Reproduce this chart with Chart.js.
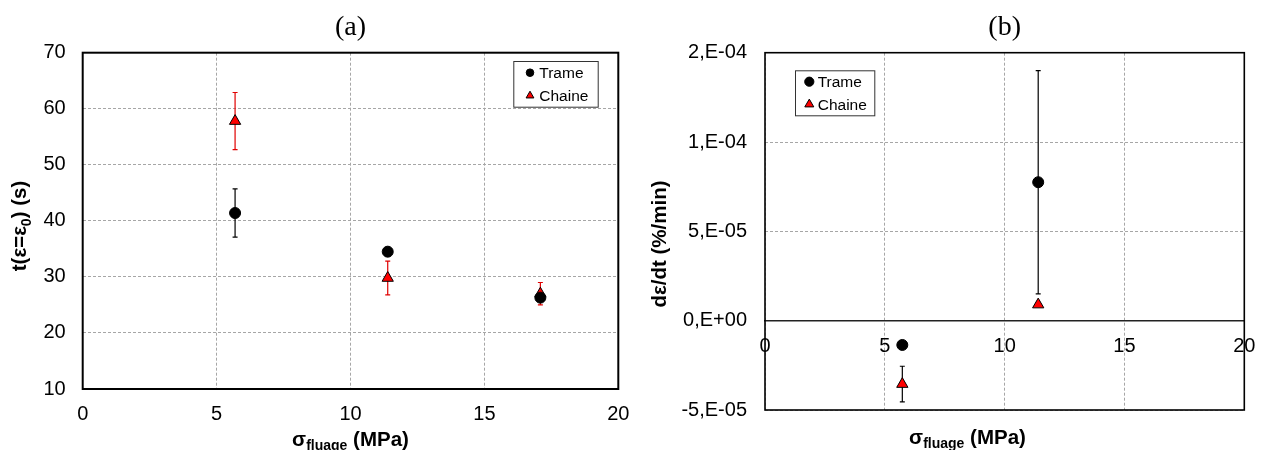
<!DOCTYPE html>
<html>
<head>
<meta charset="utf-8">
<script src="https://cdn.jsdelivr.net/npm/chart.js@4"></script>
<style>
  html, body { margin: 0; padding: 0; background: #fff; }
  #wrap { position: relative; width: 1263px; height: 450px; }
  canvas { position: absolute; top: 0; }
  #chartA { left: 0; }
  #chartB { left: 640px; }
</style>
</head>
<body>
<div id="wrap">
  <canvas id="chartA" width="640" height="450"></canvas>
  <canvas id="chartB" width="623" height="450"></canvas>
</div>
<script>
// (a) time to reach eps0 vs creep stress
const stressA = [5.69, 11.39, 17.09];
const trameTimeA = [41.4, 34.5, 26.3];
const trameTimeErrA = [4.3, 0.8, 0.5];
const chaineTimeA = [57.8, 29.8, 27.0];
const chaineTimeErrA = [5.1, 3.0, 2.0];

// (b) strain rate vs creep stress
const stressB = [5.73, 11.40];
const trameRateB = [-1.36e-5, 7.75e-5];
const trameRateErrB = [0, 6.25e-5];
const chaineRateB = [-3.55e-5, 0.9e-5];
const chaineRateErrB = [1.0e-5, 0];

const xTicks = [0, 5, 10, 15, 20];
const yTicksA = [10, 20, 30, 40, 50, 60, 70];
const yTicksB = [-5e-5, 0, 5e-5, 1e-4, 1.5e-4];
const yTickLabelsB = ['-5,E-05', '0,E+00', '5,E-05', '1,E-04', '2,E-04'];
const seriesNames = ['Trame', 'Chaine'];

const FONT = "'Liberation Sans', Arial, sans-serif";
const SERIF = "'Liberation Serif', 'Times New Roman', serif";
Chart.defaults.font.family = FONT;
Chart.defaults.color = '#000';

const pts = (xs, ys) => xs.map((x, i) => ({ x: x, y: ys[i] }));

// error bars, drawn under the markers
const errorBars = {
  id: 'errorBars',
  beforeDatasetsDraw(chart) {
    const { ctx, scales: { x, y } } = chart;
    chart.data.datasets.forEach(ds => {
      if (!ds.errors) return;
      ctx.save();
      ctx.strokeStyle = ds.errorColor;
      ctx.lineWidth = 1.2;
      ds.data.forEach((p, j) => {
        const e = ds.errors[j];
        if (!e) return;
        const px = x.getPixelForValue(p.x);
        const top = y.getPixelForValue(p.y + e);
        const bot = y.getPixelForValue(p.y - e);
        ctx.beginPath();
        ctx.moveTo(px, top); ctx.lineTo(px, bot);
        ctx.moveTo(px - 2.5, top); ctx.lineTo(px + 2.5, top);
        ctx.moveTo(px - 2.5, bot); ctx.lineTo(px + 2.5, bot);
        ctx.stroke();
      });
      ctx.restore();
    });
  }
};

// black box round the plot area
const frame = {
  id: 'frame',
  beforeDatasetsDraw(chart, args, opts) {
    const { ctx, chartArea: a } = chart;
    ctx.save();
    ctx.strokeStyle = '#000';
    ctx.lineWidth = opts.lineWidth;
    ctx.strokeRect(a.left, a.top, a.right - a.left, a.bottom - a.top);
    ctx.restore();
  }
};

function marker(ctx, style, cx, cy, r, fill) {
  ctx.beginPath();
  if (style === 'triangle') {
    for (let k = 0; k < 3; k++) {
      const ang = k * 2 * Math.PI / 3;
      const px = cx + Math.sin(ang) * r, py = cy - Math.cos(ang) * r;
      if (k === 0) ctx.moveTo(px, py); else ctx.lineTo(px, py);
    }
    ctx.closePath();
  } else {
    ctx.arc(cx, cy, r, 0, Math.PI * 2);
  }
  ctx.fillStyle = fill;
  ctx.fill();
  ctx.lineWidth = 1;
  ctx.strokeStyle = '#000';
  ctx.stroke();
}

// boxed legend inside the plot area
const boxLegend = {
  id: 'boxLegend',
  afterDatasetsDraw(chart, args, o) {
    const { ctx, chartArea: a } = chart;
    const bx = o.right != null ? a.right - o.right - o.width : a.left + o.left;
    const by = a.top + o.top;
    ctx.save();
    ctx.fillStyle = '#fff';
    ctx.fillRect(bx, by, o.width, o.height);
    ctx.strokeStyle = '#333';
    ctx.lineWidth = 1;
    ctx.strokeRect(bx + 0.5, by + 0.5, o.width, o.height);
    ctx.font = '15.5px ' + FONT;
    ctx.textBaseline = 'middle';
    chart.data.datasets.forEach((ds, i) => {
      const cy = by + o.rows[i];
      marker(ctx, ds.pointStyle, bx + o.markX, cy, o.sizes[i], ds.backgroundColor);
      ctx.fillStyle = '#000';
      ctx.fillText(ds.label, bx + o.textX, cy + 1);
    });
    ctx.restore();
  }
};

// axis titles with subscripts
function richText(ctx, parts, cx, cy, rotate) {
  ctx.save();
  ctx.translate(cx, cy);
  if (rotate) ctx.rotate(-Math.PI / 2);
  ctx.textBaseline = 'middle';
  ctx.fillStyle = '#000';
  let total = 0;
  parts.forEach(p => {
    ctx.font = 'bold ' + (p.sub ? 14 : 20.5) + 'px ' + FONT;
    p.w = ctx.measureText(p.text).width;
    total += p.w;
  });
  let x = -total / 2;
  parts.forEach(p => {
    ctx.font = 'bold ' + (p.sub ? 14 : 20.5) + 'px ' + FONT;
    ctx.fillText(p.text, x, p.sub ? 6.5 : 0);
    x += p.w;
  });
  ctx.restore();
}

const axisTitles = {
  id: 'axisTitles',
  afterDraw(chart, args, o) {
    richText(chart.ctx, o.x.parts, o.x.cx, o.x.cy, false);
    richText(chart.ctx, o.y.parts, o.y.cx, o.y.cy, true);
  }
};

const gridStyle = { color: '#a6a6a6', lineWidth: 1, drawTicks: false };
const tickFont = { size: 20 };

// keep label overhang from moving the plot area
function noPadX(s) { s.paddingLeft = 0; s.paddingRight = 0; }
function noPadY(s) { s.paddingTop = 0; s.paddingBottom = 0; }

function datasets(xs, ys1, e1, ys2, e2, chaineErrColor) {
  return [
    {
      label: seriesNames[0], data: pts(xs, ys1), errors: e1, errorColor: '#000',
      pointStyle: 'circle', pointRadius: 5.5, backgroundColor: '#000', borderColor: '#000', borderWidth: 1
    },
    {
      label: seriesNames[1], data: pts(xs, ys2), errors: e2, errorColor: chaineErrColor,
      pointStyle: 'triangle', pointRadius: 6.5, backgroundColor: '#ff0000', borderColor: '#000', borderWidth: 1
    }
  ];
}

const xTitleParts = () => [{ text: 'σ' }, { text: 'fluage', sub: true }, { text: ' (MPa)' }];

new Chart(document.getElementById('chartA'), {
  type: 'scatter',
  data: { datasets: datasets(stressA, trameTimeA, trameTimeErrA, chaineTimeA, chaineTimeErrA, '#e00000') },
  options: {
    responsive: false, animation: false, devicePixelRatio: 1, events: [],
    layout: { padding: { left: 0, right: 21.7, top: 0, bottom: 0 } },
    scales: {
      x: {
        type: 'linear', position: 'bottom',
        min: xTicks[0], max: xTicks[xTicks.length - 1],
        ticks: { stepSize: xTicks[1] - xTicks[0], font: tickFont, padding: 13.5, maxRotation: 0 },
        grid: gridStyle, border: { display: false, dash: [3, 2] },
        afterFit(s) { s.height = 61; noPadX(s); }
      },
      y: {
        min: yTicksA[0], max: yTicksA[yTicksA.length - 1],
        ticks: { stepSize: yTicksA[1] - yTicksA[0], font: tickFont, padding: 17 },
        grid: gridStyle, border: { display: false, dash: [3, 2] },
        afterFit(s) { s.width = 82.7; noPadY(s); }
      }
    },
    plugins: {
      legend: { display: false },
      tooltip: { enabled: false },
      title: {
        display: true, text: '(a)', fullSize: false, color: '#000',
        font: { family: SERIF, size: 28, weight: 'normal' },
        padding: { top: 10.7, bottom: 8.4 }
      },
      frame: { lineWidth: 2 },
      boxLegend: { right: 20.6, top: 8.3, width: 84.4, height: 45.7, rows: [11.7, 34.7], markX: 16.7, textX: 26, sizes: [3.8, 4.5] },
      axisTitles: {
        x: { cx: 350.5, cy: 440, parts: xTitleParts() },
        y: { cx: 20.5, cy: 226, parts: [{ text: 't(ε=ε' }, { text: '0', sub: true }, { text: ') (s)' }] }
      }
    }
  },
  plugins: [frame, errorBars, boxLegend, axisTitles]
});

new Chart(document.getElementById('chartB'), {
  type: 'scatter',
  data: { datasets: datasets(stressB, trameRateB, trameRateErrB, chaineRateB, chaineRateErrB, '#000') },
  options: {
    responsive: false, animation: false, devicePixelRatio: 1, events: [],
    layout: { padding: { left: 0, right: 18.7, top: 0, bottom: 40 } },
    scales: {
      x: {
        type: 'linear', position: { y: 0 },
        min: xTicks[0], max: xTicks[xTicks.length - 1],
        ticks: { stepSize: xTicks[1] - xTicks[0], font: tickFont, padding: 13.5, maxRotation: 0 },
        grid: gridStyle, border: { display: true, color: '#222', width: 1.5, dash: [3, 2] },
        afterFit(s) { noPadX(s); }
      },
      y: {
        min: yTicksB[0], max: yTicksB[yTicksB.length - 1],
        ticks: { stepSize: yTicksB[1] - yTicksB[0], font: tickFont, padding: 18,
          callback: (v, i) => yTickLabelsB[i] },
        grid: gridStyle, border: { display: false, dash: [3, 2] },
        afterFit(s) { s.width = 125; noPadY(s); }
      }
    },
    plugins: {
      legend: { display: false },
      tooltip: { enabled: false },
      title: {
        display: true, text: '(b)', fullSize: false, color: '#000',
        font: { family: SERIF, size: 28, weight: 'normal' },
        padding: { top: 10.7, bottom: 8.4 }
      },
      frame: { lineWidth: 1.6 },
      boxLegend: { left: 30, top: 17.6, width: 79.3, height: 45, rows: [11.4, 34], markX: 14.3, textX: 22.7, sizes: [4.6, 5.2] },
      axisTitles: {
        x: { cx: 327.5, cy: 438, parts: xTitleParts() },
        y: { cx: 20.5, cy: 244, parts: [{ text: 'dε/dt (%/min)' }] }
      }
    }
  },
  plugins: [frame, errorBars, boxLegend, axisTitles]
});
</script>
</body>
</html>
